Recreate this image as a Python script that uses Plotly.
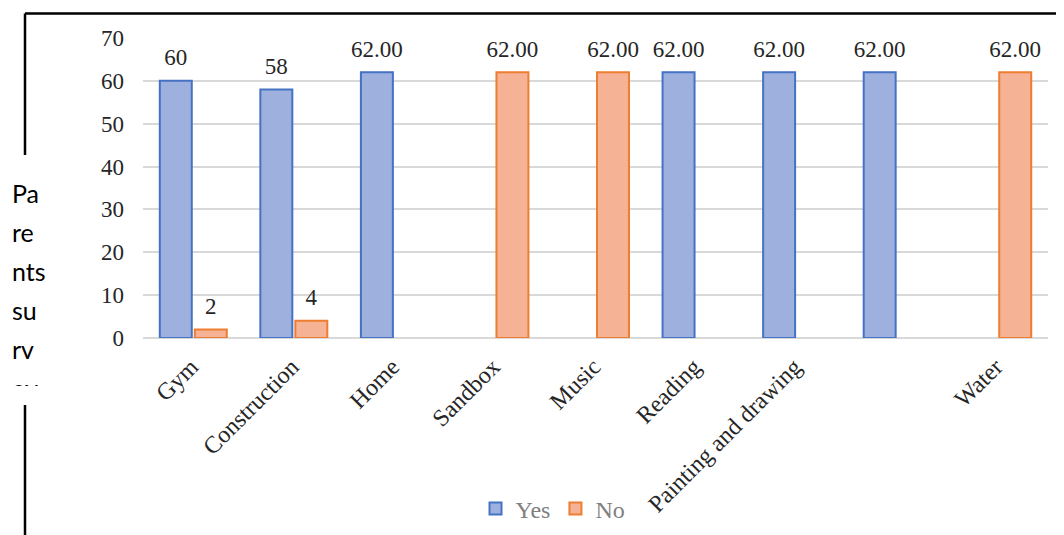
import plotly.graph_objects as go

# ---- data ----
categories = ["Gym", "Construction", "Home", "Sandbox", "Music", "Reading",
              "Painting and drawing", "", "Water"]
yes_values = [60, 58, 62, None, None, 62, 62, 62, None]
no_values = [2, 4, None, 62, 62, None, None, None, 62]
yes_labels = ["60", "58", "62.00", "", "", "62.00", "62.00", "62.00", ""]
no_labels = ["2", "4", "", "62.00", "62.00", "", "", "", "62.00"]
y_ticks = [0, 10, 20, 30, 40, 50, 60, 70]
y_title_lines = ["Pa", "re", "nts", "su", "rv", "ey"]

# ---- layout geometry (reference pixels; page has an 8px body margin) ----
OFF = 8
W, H = 1064 - OFF, 535 - OFF
plot_l, plot_r = 143, 1048
plot_t, plot_b = 38, 338
MR = (1064 - plot_r)
PW = W - MR
PH = H

def px_x(p):
    return (p - OFF) / PW

def px_y(p):
    return (PH - (p - OFF)) / PH

serif = "Liberation Serif, Times New Roman, serif"
BLUE_LINE, BLUE_FILL = "#4472c4", "#9eb0de"
ORG_LINE, ORG_FILL = "#ed7d31", "#f5b294"

x_idx = list(range(len(categories)))

fig = go.Figure()
fig.add_trace(go.Bar(name="Yes", x=x_idx, y=yes_values,
                     marker=dict(color=BLUE_FILL, line=dict(color=BLUE_LINE, width=2))))
fig.add_trace(go.Bar(name="No", x=x_idx, y=no_values,
                     marker=dict(color=ORG_FILL, line=dict(color=ORG_LINE, width=2))))

# data labels (grouped scatter text, aligned with bars)
for vals, labs in ((yes_values, yes_labels), (no_values, no_labels)):
    fig.add_trace(go.Scatter(x=x_idx, y=vals, text=labs, mode="markers+text",
                             orientation="v",
                             textposition="top center",
                             marker=dict(size=14, color="rgba(0,0,0,0)"),
                             textfont=dict(family=serif, size=23, color="#262626"),
                             showlegend=False, hoverinfo="skip", cliponaxis=False))

# y-axis title text box (clipped lines)
f_title = 25
line0_center = 196.75
line_step = 39
box_top, box_bot = 155, 386
fig.add_trace(go.Scatter(x=[12] * len(y_title_lines), y=list(range(len(y_title_lines))),
                         text=y_title_lines, mode="text", textposition="middle right",
                         textfont=dict(family="Lato, Carlito, Calibri, sans-serif",
                                       size=f_title, color="#000000"),
                         xaxis="x2", yaxis="y2", showlegend=False, hoverinfo="skip",
                         cliponaxis=True))

fig.update_layout(
    width=W, height=H, autosize=False,
    template="none",
    paper_bgcolor="white", plot_bgcolor="white",
    margin=dict(l=0, r=MR, t=0, b=0, pad=0),
    barmode="group", bargap=0.304, bargroupgap=0.086,
    scattermode="group",
    showlegend=True,
    legend=dict(orientation="h", x=px_x(553), xanchor="center",
                y=px_y(509), yanchor="middle", itemwidth=30,
                font=dict(family=serif, size=24, color="#7f7f7f"),
                bgcolor="rgba(0,0,0,0)", traceorder="normal"),
    xaxis=dict(domain=[px_x(plot_l), px_x(plot_r)],
               range=[-0.5, len(categories) - 0.5],
               tickmode="array", tickvals=x_idx, ticktext=categories,
               tickangle=-45, showgrid=False, zeroline=False,
               showline=False, ticks="", automargin=False,
               ticklabelshift=-2, ticklabelstandoff=9,
               tickfont=dict(family=serif, size=24, color="#262626")),
    yaxis=dict(domain=[px_y(plot_b), px_y(plot_t)], range=[0, 70],
               tickmode="array", tickvals=y_ticks,
               showgrid=True, gridcolor="#d9d9d9", gridwidth=1.5,
               zeroline=True, zerolinecolor="#d9d9d9", zerolinewidth=1.5,
               showline=False, ticks="", automargin=False,
               ticklabelstandoff=18,
               tickfont=dict(family=serif, size=23, color="#262626")),
    xaxis2=dict(domain=[0, px_x(78)], range=[OFF, 78], visible=False,
                fixedrange=True, anchor="y2"),
    yaxis2=dict(domain=[px_y(box_bot), px_y(box_top)],
                range=[(box_bot - line0_center) / line_step,
                       -(line0_center - box_top) / line_step],
                visible=False, fixedrange=True, anchor="x2"),
    shapes=[
        dict(type="line", xref="paper", yref="paper",
             x0=px_x(25), x1=px_x(1070), y0=px_y(13.5), y1=px_y(13.5),
             line=dict(color="black", width=2.5)),
        dict(type="line", xref="paper", yref="paper",
             x0=px_x(25), x1=px_x(25), y0=px_y(13.5), y1=px_y(box_top),
             line=dict(color="black", width=2.5)),
        dict(type="line", xref="paper", yref="paper",
             x0=px_x(25), x1=px_x(25), y0=px_y(405), y1=px_y(545),
             line=dict(color="black", width=2.5)),
    ],
)

fig.write_html("out.html")
